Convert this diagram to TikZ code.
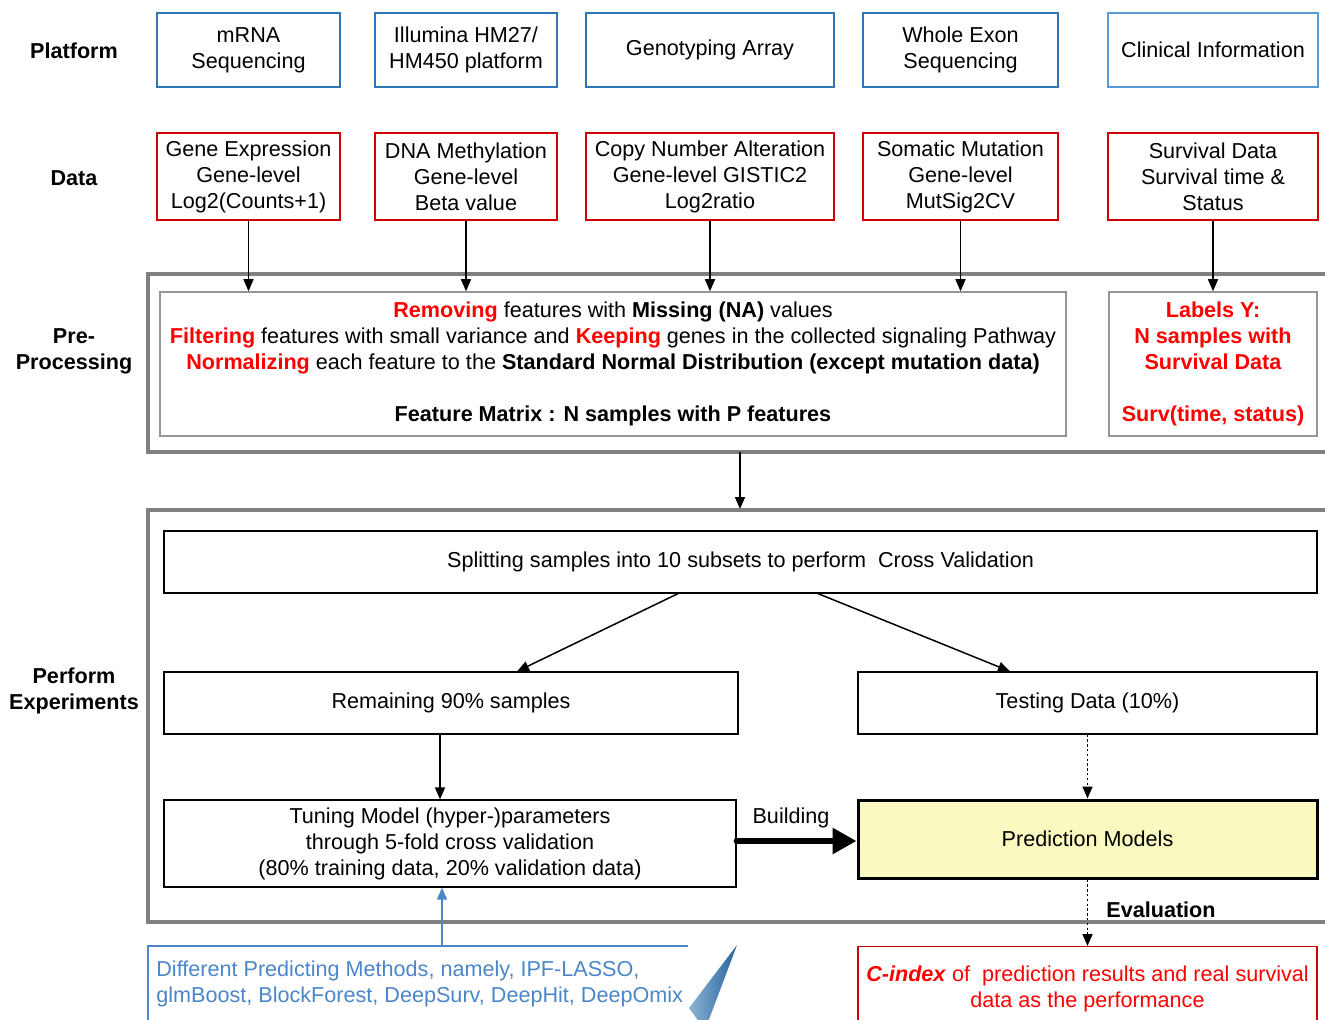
\documentclass[tikz,border=0pt]{standalone}
\usepackage{fontspec}
\setmainfont{Liberation Sans}
\usetikzlibrary{arrows.meta}

\definecolor{platblue}{RGB}{46,117,182}
\definecolor{clinblue}{RGB}{91,155,213}
\definecolor{datared}{RGB}{204,0,0}
\definecolor{hlred}{RGB}{255,0,0}
\definecolor{framegray}{RGB}{128,128,128}
\definecolor{innergray}{RGB}{150,150,150}
\definecolor{calloutblue}{RGB}{74,134,200}
\definecolor{predyellow}{RGB}{250,250,192}

\newcommand{\redbf}[1]{\textcolor{hlred}{\textbf{#1}}}

\begin{document}
\begin{tikzpicture}[x=0.5pt, y=-0.5pt,
  every node/.style={font=\fontsize{10.8}{13}\selectfont},
  rowlabel/.style={align=center, font=\fontsize{10.8}{13}\selectfont\bfseries},
  platform/.style={rectangle, draw=platblue, line width=1.25pt, minimum height=37pt, align=center},
  data/.style={rectangle, draw=datared, line width=1.25pt, minimum height=43.5pt, align=center},
  frame/.style={draw=framegray, line width=2pt},
  inner/.style={rectangle, draw=innergray, line width=0.75pt, minimum height=72pt, align=center},
  stepbox/.style={rectangle, draw, line width=0.6pt, align=center},
  arrow/.style={-{Triangle[length=6pt,width=5pt]}, line width=0.75pt},
  dotarrow/.style={arrow, line width=0.85pt, dash pattern=on 1.2pt off 1.2pt},
  build/.style={-{Triangle[length=12pt,width=12.5pt]}, line width=3pt, line cap=round},
  bluearrow/.style={-{Triangle[length=6pt,width=5pt]}, line width=0.75pt, draw=calloutblue, fill=calloutblue}
]
\useasboundingbox (0,0) rectangle (1325,1020);

% Row labels
\node[rowlabel] (lplat) at (74,51) {Platform};
\node[rowlabel] (ldata) at (74,178) {Data};
\node[rowlabel] (lpre) at (74,351) {Pre-\\Processing};
\node[rowlabel] (lexp) at (74,691) {Perform\\Experiments};

% Platforms
\node[platform, minimum width=91.5pt] (p1) at (248.5,50) {mRNA\\Sequencing};
\node[platform, minimum width=91pt] (p2) at (466,50) {Illumina HM27/\\HM450 platform};
\node[platform, minimum width=124pt] (p3) at (710,50) {Genotyping Array};
\node[platform, minimum width=97.5pt] (p4) at (960.5,50) {Whole Exon\\Sequencing};
\node[platform, draw=clinblue, minimum width=105pt] (p5) at (1213,50) {Clinical Information};

% Data
\node[data, minimum width=91.5pt] (d1) at (248.5,176.5) {Gene Expression\\Gene-level\\Log2(Counts+1)};
\node[data, minimum width=91pt] (d2) at (466,176.5) {DNA Methylation\\Gene-level\\Beta value};
\node[data, minimum width=124pt] (d3) at (710,176.5) {Copy Number Alteration\\Gene-level GISTIC2\\Log2ratio};
\node[data, minimum width=97.5pt] (d4) at (960.5,176.5) {Somatic Mutation\\Gene-level\\MutSig2CV};
\node[data, minimum width=105pt] (d5) at (1213,176.5) {Survival Data\\Survival time \&\\Status};

% Pre-processing
\draw[frame] (1330,274) -- (148,274) -- (148,452) -- (1330,452);
\node[inner, minimum width=453pt] (pre) at (613,364) {%
  \redbf{Removing} features with \textbf{Missing (NA)} values\\
  \redbf{Filtering} features with small variance and \redbf{Keeping} genes in the collected signaling Pathway\\
  \redbf{Normalizing} each feature to the \textbf{Standard Normal Distribution (except mutation data)}\\[13pt]
  \textbf{Feature Matrix : N samples with P features}};
\node[inner, minimum width=104pt, text=hlred, font=\fontsize{10.8}{13}\selectfont\bfseries] (lab) at (1213,364)
  {Labels Y:\\N samples with\\Survival Data\\[13pt]Surv(time, status)};

\draw[arrow] (d1.south) -- (d1.south |- pre.north);
\draw[arrow] (d2.south) -- (d2.south |- pre.north);
\draw[arrow] (d3.south) -- (d3.south |- pre.north);
\draw[arrow] (d4.south) -- (d4.south |- pre.north);
\draw[arrow] (d5.south) -- (lab.north);

% Experiments
\coordinate (prebot) at (740,452);
\coordinate (exptop) at (740,509);
\draw[arrow] (prebot) -- (exptop);
\draw[frame] (1330,510) -- (148,510) -- (148,922) -- (1330,922);

\node[stepbox, minimum width=576.5pt, minimum height=31pt] (split) at (740.5,562)
  {Splitting samples into 10 subsets to perform~ Cross Validation};
\node[stepbox, minimum width=287pt, minimum height=31pt] (remain) at (451,703) {Remaining 90\% samples};
\node[stepbox, minimum width=229.5pt, minimum height=31pt] (test) at (1087.5,703) {Testing Data (10\%)};
\node[stepbox, minimum width=286pt, minimum height=43.5pt] (tune) at (450,843.5)
  {Tuning Model (hyper-)parameters\\through 5-fold cross validation\\(80\% training data, 20\% validation data)};
\node[stepbox, line width=1.5pt, fill=predyellow, minimum width=229.5pt, minimum height=39pt] (pred) at (1087.5,839)
  {Prediction Models};

\draw[arrow] ([xshift=-31.25pt]split.south) -- ([xshift=33pt]remain.north);
\draw[arrow] ([xshift=38.75pt]split.south) -- ([xshift=-38.75pt]test.north);
\draw[arrow] ([xshift=-5.5pt]remain.south) -- ([xshift=-5pt]tune.north);
\draw[dotarrow] (test.south) -- (pred.north);
\draw[build] (tune.east |- 0,841) -- (pred.west |- 0,841);
\node (buildlab) at (791,818) {Building};

% Evaluation
\node[rectangle, draw=datared, line width=0.6pt, text=hlred, align=center, anchor=north,
  minimum width=229.5pt, inner ysep=9.5pt] (cidx) at (1087.5,946)
  {\textbf{\textit{C-index}} of~ prediction results and real survival\\data as the performance};
\draw[dotarrow] (pred.south) -- (cidx.north);
\node[font=\fontsize{10.8}{13}\selectfont\bfseries] (evallab) at (1161,910) {Evaluation};

% Methods callout
\node[anchor=north west, align=left, text=calloutblue, inner xsep=4pt, inner ysep=7pt] (methods) at (148,946)
  {Different Predicting Methods, namely, IPF-LASSO,\\glmBoost, BlockForest, DeepSurv, DeepHit, DeepOmix};
\draw[calloutblue, line width=0.6pt] (688,946) -- (methods.north west) -- (148,1030);
\shade[left color=platblue!55, right color=platblue!85!black] (737,945) -- (689,1008) -- (705,1030) -- cycle;
\draw[bluearrow] ([xshift=-4pt]tune.south |- methods.north) -- ([xshift=-4pt]tune.south);

\end{tikzpicture}
\end{document}
